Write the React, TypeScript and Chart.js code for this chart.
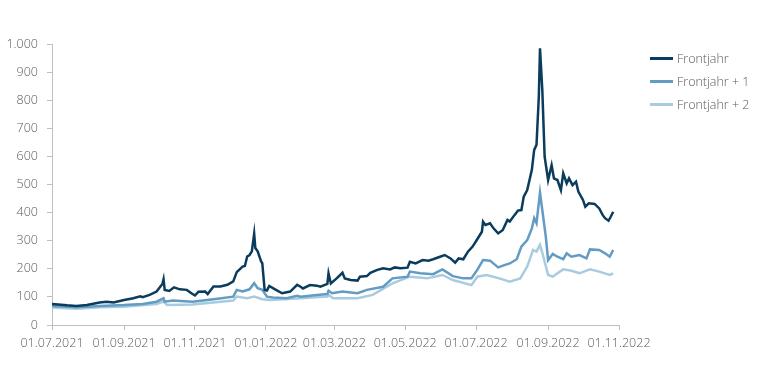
import React, { useEffect, useRef } from "react";
import { Chart, registerables } from "chart.js";

Chart.register(...registerables);

const startDate = "2021-07-01";

const xTickLabels = [
  "01.07.2021", "01.09.2021", "01.11.2021", "01.01.2022", "01.03.2022",
  "01.05.2022", "01.07.2022", "01.09.2022", "01.11.2022",
];

const seriesNames = ["Frontjahr", "Frontjahr + 1", "Frontjahr + 2"];
const seriesColors = ["#0b3c5d", "#639bc2", "#a8cbe0"];

const frontjahrDates = [
  "2021-07-01", "2021-07-14", "2021-07-22", "2021-07-31", "2021-08-11", "2021-08-17", "2021-08-23",
  "2021-09-01", "2021-09-09", "2021-09-15", "2021-09-17", "2021-09-23", "2021-09-29", "2021-10-04",
  "2021-10-05", "2021-10-06", "2021-10-10", "2021-10-14", "2021-10-19", "2021-10-25", "2021-10-29",
  "2021-11-01", "2021-11-04", "2021-11-10", "2021-11-12", "2021-11-17", "2021-11-23", "2021-11-29",
  "2021-12-04", "2021-12-07", "2021-12-12", "2021-12-14", "2021-12-16", "2021-12-18", "2021-12-20",
  "2021-12-22", "2021-12-23", "2021-12-25", "2021-12-28", "2021-12-29", "2021-12-31", "2022-01-02",
  "2022-01-04", "2022-01-09", "2022-01-15", "2022-01-22", "2022-01-28", "2022-01-31", "2022-02-02",
  "2022-02-08", "2022-02-14", "2022-02-17", "2022-02-23", "2022-02-24", "2022-02-26", "2022-03-03",
  "2022-03-08", "2022-03-10", "2022-03-15", "2022-03-21", "2022-03-23", "2022-03-29", "2022-04-01",
  "2022-04-07", "2022-04-12", "2022-04-18", "2022-04-22", "2022-04-27", "2022-05-03", "2022-05-05",
  "2022-05-10", "2022-05-16", "2022-05-21", "2022-05-25", "2022-05-31", "2022-06-04", "2022-06-09",
  "2022-06-13", "2022-06-16", "2022-06-20", "2022-06-24", "2022-06-28", "2022-07-02", "2022-07-06",
  "2022-07-07", "2022-07-09", "2022-07-13", "2022-07-16", "2022-07-20", "2022-07-24", "2022-07-28",
  "2022-07-30", "2022-08-03", "2022-08-06", "2022-08-09", "2022-08-11", "2022-08-14", "2022-08-18",
  "2022-08-20", "2022-08-22", "2022-08-24", "2022-08-25", "2022-08-27", "2022-08-29", "2022-09-01",
  "2022-09-04", "2022-09-06", "2022-09-09", "2022-09-12", "2022-09-14", "2022-09-17", "2022-09-19",
  "2022-09-22", "2022-09-25", "2022-09-27", "2022-10-01", "2022-10-03", "2022-10-06", "2022-10-11",
  "2022-10-15", "2022-10-18", "2022-10-20", "2022-10-23", "2022-10-25", "2022-10-27",
];
const frontjahrValues = [
  75, 70, 68, 71, 80, 83, 80,
  89, 95, 102, 99, 107, 119, 146,
  163, 125, 121, 134, 127, 125, 113,
  105, 118, 119, 110, 137, 137, 143,
  155, 188, 208, 210, 244, 249, 262,
  325, 274, 262, 226, 220, 125, 123,
  139, 127, 113, 119, 143, 136, 130,
  142, 140, 136, 146, 184, 148, 166,
  186, 166, 160, 158, 172, 174, 186,
  196, 202, 198, 205, 202, 204, 225,
  219, 231, 229, 234, 243, 249, 237,
  222, 237, 234, 261, 279, 305, 332,
  368, 356, 362, 344, 326, 338, 374,
  368, 391, 407, 409, 457, 480, 552,
  623, 641, 813, 985, 836, 599, 516,
  569, 522, 516, 480, 540, 504, 522,
  498, 510, 475, 445, 421, 433, 431,
  415, 391, 380, 371, 386, 403,
];

const frontjahr1Dates = [
  "2021-07-01", "2021-07-22", "2021-08-11", "2021-09-01", "2021-09-17", "2021-09-29", "2021-10-05",
  "2021-10-06", "2021-10-13", "2021-10-30", "2021-11-17", "2021-12-04", "2021-12-07", "2021-12-12",
  "2021-12-18", "2021-12-22", "2021-12-25", "2021-12-29", "2022-01-02", "2022-01-07", "2022-01-19",
  "2022-01-28", "2022-01-31", "2022-02-14", "2022-02-23", "2022-02-24", "2022-02-27", "2022-03-08",
  "2022-03-21", "2022-03-29", "2022-04-12", "2022-04-20", "2022-05-03", "2022-05-05", "2022-05-14",
  "2022-05-25", "2022-06-02", "2022-06-11", "2022-06-20", "2022-06-27", "2022-07-02", "2022-07-07",
  "2022-07-13", "2022-07-20", "2022-07-26", "2022-07-30", "2022-08-05", "2022-08-09", "2022-08-14",
  "2022-08-18", "2022-08-20", "2022-08-22", "2022-08-25", "2022-08-27", "2022-08-30", "2022-09-01",
  "2022-09-05", "2022-09-09", "2022-09-14", "2022-09-17", "2022-09-21", "2022-09-28", "2022-10-04",
  "2022-10-07", "2022-10-15", "2022-10-20", "2022-10-24", "2022-10-27",
];
const frontjahr1Values = [
  68, 63, 68, 71, 75, 83, 95,
  83, 87, 83, 92, 101, 125, 119,
  127, 149, 131, 125, 101, 98, 95,
  104, 101, 107, 110, 122, 113, 119,
  113, 125, 136, 166, 172, 190, 184,
  181, 198, 174, 166, 166, 196, 231,
  229, 205, 214, 219, 234, 279, 302,
  344, 380, 362, 471, 409, 314, 231,
  253, 243, 234, 255, 243, 249, 237,
  269, 267, 255, 243, 267,
];

const frontjahr2Dates = [
  "2021-07-01", "2021-07-22", "2021-08-11", "2021-09-01", "2021-09-29", "2021-10-05", "2021-10-08",
  "2021-10-30", "2021-12-04", "2021-12-07", "2021-12-16", "2021-12-22", "2021-12-29", "2022-01-05",
  "2022-01-28", "2022-01-31", "2022-02-23", "2022-02-24", "2022-02-28", "2022-03-21", "2022-04-03",
  "2022-04-20", "2022-05-05", "2022-05-20", "2022-06-02", "2022-06-11", "2022-06-27", "2022-07-02",
  "2022-07-10", "2022-07-21", "2022-07-30", "2022-08-08", "2022-08-14", "2022-08-19", "2022-08-22",
  "2022-08-25", "2022-08-27", "2022-09-01", "2022-09-05", "2022-09-09", "2022-09-14", "2022-09-21",
  "2022-09-28", "2022-10-07", "2022-10-15", "2022-10-24", "2022-10-27",
];
const frontjahr2Values = [
  62, 58, 63, 65, 75, 83, 71,
  73, 87, 101, 95, 101, 92, 89,
  94, 95, 101, 107, 95, 95, 107,
  148, 172, 166, 178, 160, 142, 172,
  178, 166, 154, 166, 208, 267, 261,
  285, 257, 178, 172, 184, 198, 193,
  184, 198, 190, 178, 184,
];

const yMin = 0;
const yMax = 1000;
const yStep = 100;

const DAY_MS = 86400000;
function isoToDays(iso: string): number {
  const [y, m, d] = iso.split("-").map(Number);
  const [sy, sm, sd] = startDate.split("-").map(Number);
  return Math.round((Date.UTC(y, m - 1, d) - Date.UTC(sy, sm - 1, sd)) / DAY_MS);
}
function deToDays(de: string): number {
  const [d, m, y] = de.split(".");
  return isoToDays(`${y}-${m}-${d}`);
}
function toPoints(dates: string[], values: number[]) {
  return dates.map((d, i) => ({ x: isoToDays(d), y: values[i] }));
}
function formatDe(v: number): string {
  return String(v).replace(/\B(?=(\d{3})+(?!\d))/g, ".");
}

const FONT = "'Open Sans', 'Noto Sans', sans-serif";
const TEXT_COLOR = "#595959";
const AXIS_COLOR = "#bfbfbf";

export default function App() {
  const canvasRef = useRef<HTMLCanvasElement | null>(null);

  useEffect(() => {
    document.body.style.margin = "0";
    const canvas = canvasRef.current;
    if (!canvas) return;
    const tickDays = xTickLabels.map(deToDays);
    const labelByDay: Record<number, string> = {};
    tickDays.forEach((d, i) => (labelByDay[d] = xTickLabels[i]));

    const allData = [
      toPoints(frontjahrDates, frontjahrValues),
      toPoints(frontjahr1Dates, frontjahr1Values),
      toPoints(frontjahr2Dates, frontjahr2Values),
    ];

    const chart = new Chart(canvas, {
      type: "line",
      data: {
        datasets: allData.map((data, i) => ({
          label: seriesNames[i],
          data,
          borderColor: seriesColors[i],
          backgroundColor: seriesColors[i],
          borderWidth: 2.5,
          pointRadius: 0,
          tension: 0,
          fill: false,
          order: i,
        })),
      },
      options: {
        animation: false,
        responsive: true,
        maintainAspectRatio: false,
        layout: { padding: { top: 44, right: 149, bottom: 0, left: 0 } },
        plugins: {
          legend: { display: false },
          tooltip: { enabled: false },
        },
        scales: {
          x: {
            type: "linear",
            min: tickDays[0],
            max: tickDays[tickDays.length - 1],
            afterBuildTicks: (axis: any) => {
              axis.ticks = tickDays.map((v) => ({ value: v }));
            },
            afterFit: (axis: any) => {
              axis.height = 47;
            },
            ticks: {
              autoSkip: false,
              maxRotation: 0,
              minRotation: 0,
              padding: 6,
              color: TEXT_COLOR,
              font: { family: FONT, size: 12.5, weight: 300 },
              callback: (v: any) => labelByDay[v as number] ?? "",
            },
            grid: {
              display: true,
              drawOnChartArea: false,
              drawTicks: true,
              tickLength: 5,
              color: AXIS_COLOR,
            },
            border: { display: true, color: AXIS_COLOR, width: 1 },
          },
          y: {
            min: yMin,
            max: yMax,
            afterFit: (axis: any) => {
              axis.width = 52;
            },
            ticks: {
              stepSize: yStep,
              padding: 9,
              color: TEXT_COLOR,
              font: { family: FONT, size: 12.5, weight: 300 },
              callback: (v: any) => formatDe(Number(v)),
            },
            grid: {
              display: true,
              drawOnChartArea: false,
              drawTicks: true,
              tickLength: 5,
              color: AXIS_COLOR,
            },
            border: { display: true, color: AXIS_COLOR, width: 1 },
          },
        },
      },
    });
    return () => chart.destroy();
  }, []);

  return (
    <div style={{ position: "fixed", left: 0, top: 0, width: 768, height: 372, background: "#fff" }}>
      <canvas ref={canvasRef} />
      <div
        style={{
          position: "absolute",
          left: 650,
          top: 47,
          fontFamily: FONT,
          fontSize: 12.5,
          fontWeight: 300,
          color: TEXT_COLOR,
        }}
      >
        {seriesNames.map((name, i) => (
          <div key={name} style={{ display: "flex", alignItems: "center", height: 23 }}>
            <span
              style={{
                display: "inline-block",
                width: 23,
                height: 3,
                background: seriesColors[i],
                marginRight: 4,
              }}
            />
            <span>{name}</span>
          </div>
        ))}
      </div>
    </div>
  );
}
